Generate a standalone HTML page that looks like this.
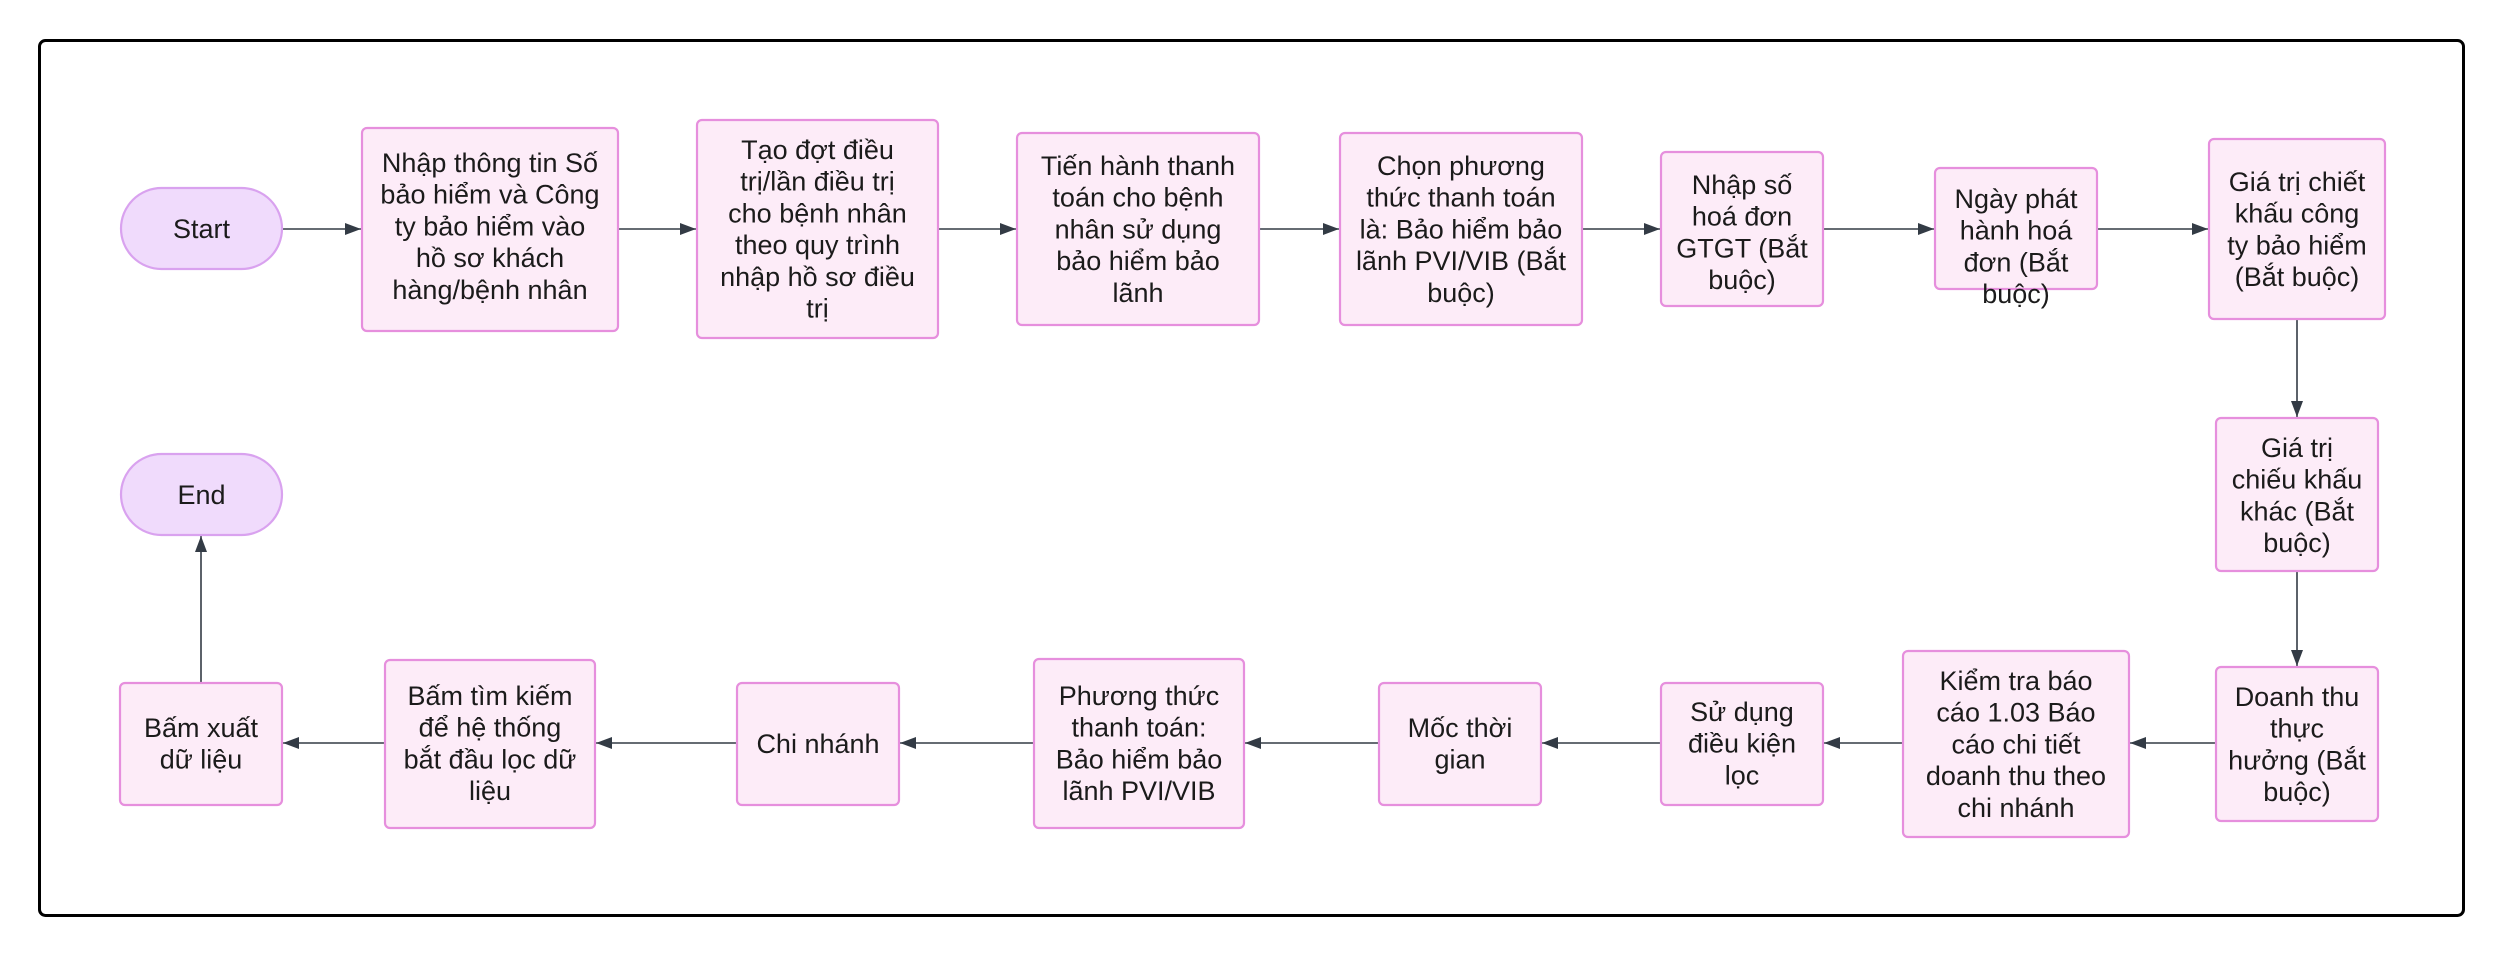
<!DOCTYPE html>
<html><head><meta charset="utf-8"><style>
html,body{margin:0;padding:0;background:#fff;}
svg{display:block;}
text{font-family:"Liberation Sans","DejaVu Sans",sans-serif;font-size:27px;fill:#1b1b1b;text-anchor:middle;}
.n{fill:#fdecf8;stroke:#e68fdd;stroke-width:2.2;}
.p{fill:#f0dbfc;stroke:#d9a2ef;stroke-width:2.2;}
.e{stroke:#333b45;stroke-width:1.6;fill:none;}
</style></head><body>
<svg width="2505" height="956" viewBox="0 0 2505 956" xmlns="http://www.w3.org/2000/svg">
<defs>
<marker id="a" markerWidth="16" markerHeight="12" refX="16" refY="6" orient="auto" markerUnits="userSpaceOnUse">
<path d="M0,0 L16,6 L0,12 z" fill="#333b45"/>
</marker>
</defs>
<rect x="39.5" y="40.5" width="2424" height="875" rx="6" fill="#fff" stroke="#000" stroke-width="3"/>

<!-- edges row 1 -->
<line class="e" x1="282" y1="229" x2="361" y2="229" marker-end="url(#a)"/>
<line class="e" x1="618" y1="229" x2="696" y2="229" marker-end="url(#a)"/>
<line class="e" x1="938" y1="229" x2="1016" y2="229" marker-end="url(#a)"/>
<line class="e" x1="1259" y1="229" x2="1339" y2="229" marker-end="url(#a)"/>
<line class="e" x1="1582" y1="229" x2="1660" y2="229" marker-end="url(#a)"/>
<line class="e" x1="1823" y1="229" x2="1934" y2="229" marker-end="url(#a)"/>
<line class="e" x1="2097" y1="229" x2="2208" y2="229" marker-end="url(#a)"/>
<!-- vertical -->
<line class="e" x1="2297" y1="319" x2="2297" y2="417" marker-end="url(#a)"/>
<line class="e" x1="2297" y1="571" x2="2297" y2="666" marker-end="url(#a)"/>
<!-- row 3 -->
<line class="e" x1="2216" y1="743" x2="2130" y2="743" marker-end="url(#a)"/>
<line class="e" x1="1903" y1="743" x2="1824" y2="743" marker-end="url(#a)"/>
<line class="e" x1="1661" y1="743" x2="1542" y2="743" marker-end="url(#a)"/>
<line class="e" x1="1379" y1="743" x2="1245" y2="743" marker-end="url(#a)"/>
<line class="e" x1="1034" y1="743" x2="900" y2="743" marker-end="url(#a)"/>
<line class="e" x1="737" y1="743" x2="596" y2="743" marker-end="url(#a)"/>
<line class="e" x1="385" y1="743" x2="283" y2="743" marker-end="url(#a)"/>
<line class="e" x1="201" y1="683" x2="201" y2="536" marker-end="url(#a)"/>

<!-- nodes -->
<rect class="p" x="121" y="188" width="161" height="81" rx="40.5"/>
<text x="201.5" y="238">Start</text>

<rect class="n" x="362" y="128" width="256" height="203" rx="5"/>
<text x="490" y="172"><tspan x="490">Nhập thông tin Số</tspan><tspan x="490" dy="31.7">bảo hiểm và Công</tspan><tspan x="490" dy="31.7">ty bảo hiểm vào</tspan><tspan x="490" dy="31.7">hồ sơ khách</tspan><tspan x="490" dy="31.7">hàng/bệnh nhân</tspan></text>

<rect class="n" x="697" y="120" width="241" height="218" rx="5"/>
<text x="817.5" y="159"><tspan x="817.5">Tạo đợt điều</tspan><tspan x="817.5" dy="31.7">trị/lần điều trị</tspan><tspan x="817.5" dy="31.7">cho bệnh nhân</tspan><tspan x="817.5" dy="31.7">theo quy trình</tspan><tspan x="817.5" dy="31.7">nhập hồ sơ điều</tspan><tspan x="817.5" dy="31.7">trị</tspan></text>

<rect class="n" x="1017" y="133" width="242" height="192" rx="5"/>
<text x="1138" y="175"><tspan x="1138">Tiến hành thanh</tspan><tspan x="1138" dy="31.7">toán cho bệnh</tspan><tspan x="1138" dy="31.7">nhân sử dụng</tspan><tspan x="1138" dy="31.7">bảo hiểm bảo</tspan><tspan x="1138" dy="31.7">lãnh</tspan></text>

<rect class="n" x="1340" y="133" width="242" height="192" rx="5"/>
<text x="1461" y="175"><tspan x="1461">Chọn phương</tspan><tspan x="1461" dy="31.7">thức thanh toán</tspan><tspan x="1461" dy="31.7">là: Bảo hiểm bảo</tspan><tspan x="1461" dy="31.7">lãnh PVI/VIB (Bắt</tspan><tspan x="1461" dy="31.7">buộc)</tspan></text>

<rect class="n" x="1661" y="152" width="162" height="154" rx="5"/>
<text x="1742" y="194"><tspan x="1742">Nhập số</tspan><tspan x="1742" dy="31.7">hoá đơn</tspan><tspan x="1742" dy="31.7">GTGT (Bắt</tspan><tspan x="1742" dy="31.7">buộc)</tspan></text>

<rect class="n" x="1935" y="168" width="162" height="121" rx="5"/>
<text x="2016" y="208"><tspan x="2016">Ngày phát</tspan><tspan x="2016" dy="31.7">hành hoá</tspan><tspan x="2016" dy="31.7">đơn (Bắt</tspan><tspan x="2016" dy="31.7">buộc)</tspan></text>

<rect class="n" x="2209" y="139" width="176" height="180" rx="5"/>
<text x="2297" y="191"><tspan x="2297">Giá trị chiết</tspan><tspan x="2297" dy="31.7">khấu công</tspan><tspan x="2297" dy="31.7">ty bảo hiểm</tspan><tspan x="2297" dy="31.7">(Bắt buộc)</tspan></text>

<rect class="n" x="2216" y="418" width="162" height="153" rx="5"/>
<text x="2297" y="457"><tspan x="2297">Giá trị</tspan><tspan x="2297" dy="31.7">chiếu khấu</tspan><tspan x="2297" dy="31.7">khác (Bắt</tspan><tspan x="2297" dy="31.7">buộc)</tspan></text>

<rect class="n" x="2216" y="667" width="162" height="154" rx="5"/>
<text x="2297" y="706"><tspan x="2297">Doanh thu</tspan><tspan x="2297" dy="31.7">thực</tspan><tspan x="2297" dy="31.7">hưởng (Bắt</tspan><tspan x="2297" dy="31.7">buộc)</tspan></text>

<rect class="n" x="1903" y="651" width="226" height="186" rx="5"/>
<text x="2016" y="690"><tspan x="2016">Kiểm tra báo</tspan><tspan x="2016" dy="31.7">cáo 1.03 Báo</tspan><tspan x="2016" dy="31.7">cáo chi tiết</tspan><tspan x="2016" dy="31.7">doanh thu theo</tspan><tspan x="2016" dy="31.7">chi nhánh</tspan></text>

<rect class="n" x="1661" y="683" width="162" height="122" rx="5"/>
<text x="1742" y="721"><tspan x="1742">Sử dụng</tspan><tspan x="1742" dy="31.7">điều kiện</tspan><tspan x="1742" dy="31.7">lọc</tspan></text>

<rect class="n" x="1379" y="683" width="162" height="122" rx="5"/>
<text x="1460" y="737"><tspan x="1460">Mốc thời</tspan><tspan x="1460" dy="31.7">gian</tspan></text>

<rect class="n" x="1034" y="659" width="210" height="169" rx="5"/>
<text x="1139" y="705"><tspan x="1139">Phương thức</tspan><tspan x="1139" dy="31.7">thanh toán:</tspan><tspan x="1139" dy="31.7">Bảo hiểm bảo</tspan><tspan x="1139" dy="31.7">lãnh PVI/VIB</tspan></text>

<rect class="n" x="737" y="683" width="162" height="122" rx="5"/>
<text x="818" y="753">Chi nhánh</text>

<rect class="n" x="385" y="660" width="210" height="168" rx="5"/>
<text x="490" y="705"><tspan x="490">Bấm tìm kiếm</tspan><tspan x="490" dy="31.7">để hệ thống</tspan><tspan x="490" dy="31.7">bắt đầu lọc dữ</tspan><tspan x="490" dy="31.7">liệu</tspan></text>

<rect class="n" x="120" y="683" width="162" height="122" rx="5"/>
<text x="201" y="737"><tspan x="201">Bấm xuất</tspan><tspan x="201" dy="31.7">dữ liệu</tspan></text>

<rect class="p" x="121" y="454" width="161" height="81" rx="40.5"/>
<text x="201.5" y="504">End</text>
</svg>
</body></html>
